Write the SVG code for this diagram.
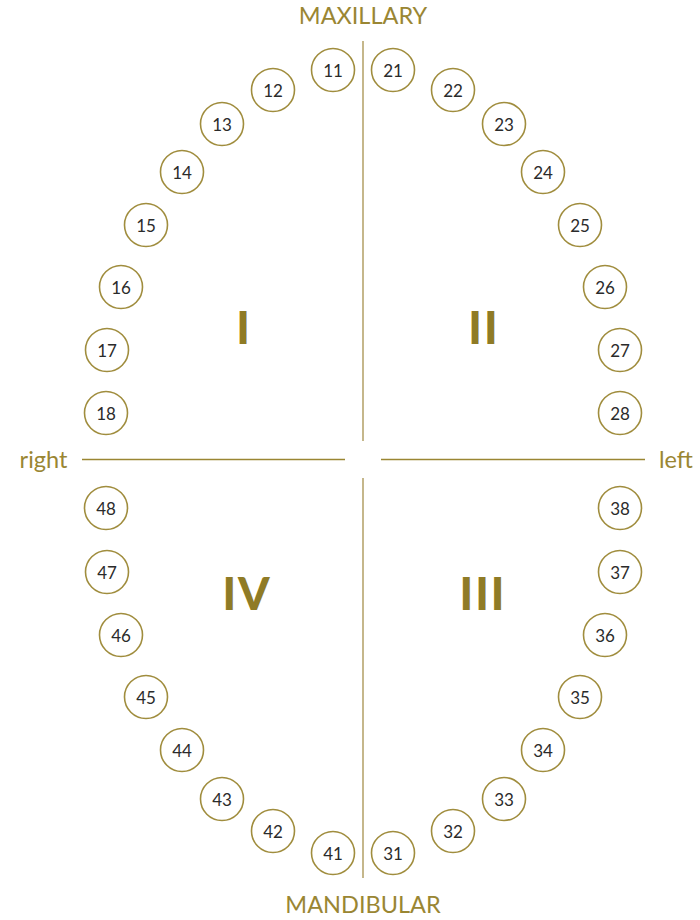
<svg xmlns="http://www.w3.org/2000/svg" width="700" height="920" viewBox="0 0 700 920">
<style>
.t circle{fill:#fff;stroke:#a08d3e;stroke-width:1.6}
.t text{font-family:Lato,"Open Sans",sans-serif;font-size:17px;fill:#2b2b2b;text-anchor:middle;dominant-baseline:central}
.lbl{font-family:Lato,"Open Sans",sans-serif;fill:#9a8633;font-size:23.5px;text-anchor:middle}
.q{font-family:Lato,"Open Sans",sans-serif;fill:#8f7b26;font-size:45px;font-weight:900;text-anchor:middle;letter-spacing:2px}
.v{stroke:#c5b78b;stroke-width:2}
.h{stroke:#9a8633;stroke-width:1.6}
</style>
<rect width="700" height="920" fill="#fff"/>
<g id="connectors">
<line class="v" x1="363" y1="41" x2="363" y2="441"/>
<line class="v" x1="363" y1="478" x2="363" y2="878"/>
<line class="h" x1="82" y1="459.5" x2="345" y2="459.5"/>
<line class="h" x1="381" y1="459.5" x2="645" y2="459.5"/>
</g>
<g id="labels">
<text class="lbl" x="363" y="24">MAXILLARY</text>
<text class="lbl" x="363" y="913">MANDIBULAR</text>
<text class="lbl" x="43.5" y="468">right</text>
<text class="lbl" x="676" y="468">left</text>
<text class="q" x="244" y="344">I</text>
<text class="q" x="484" y="344">II</text>
<text class="q" x="247" y="610">IV</text>
<text class="q" x="483" y="610">III</text>
</g>
<g id="t11" class="t"><circle cx="333" cy="70" r="21.5"/><text x="333" y="70">11</text></g>
<g id="t12" class="t"><circle cx="273" cy="90" r="21.5"/><text x="273" y="90">12</text></g>
<g id="t13" class="t"><circle cx="222" cy="124" r="21.5"/><text x="222" y="124">13</text></g>
<g id="t14" class="t"><circle cx="182" cy="172" r="21.5"/><text x="182" y="172">14</text></g>
<g id="t15" class="t"><circle cx="146" cy="225" r="21.5"/><text x="146" y="225">15</text></g>
<g id="t16" class="t"><circle cx="121" cy="287" r="21.5"/><text x="121" y="287">16</text></g>
<g id="t17" class="t"><circle cx="107" cy="350" r="21.5"/><text x="107" y="350">17</text></g>
<g id="t18" class="t"><circle cx="106" cy="413" r="21.5"/><text x="106" y="413">18</text></g>
<g id="t21" class="t"><circle cx="393" cy="70" r="21.5"/><text x="393" y="70">21</text></g>
<g id="t22" class="t"><circle cx="453" cy="90" r="21.5"/><text x="453" y="90">22</text></g>
<g id="t23" class="t"><circle cx="504" cy="124" r="21.5"/><text x="504" y="124">23</text></g>
<g id="t24" class="t"><circle cx="543" cy="172" r="21.5"/><text x="543" y="172">24</text></g>
<g id="t25" class="t"><circle cx="580" cy="225" r="21.5"/><text x="580" y="225">25</text></g>
<g id="t26" class="t"><circle cx="605" cy="287" r="21.5"/><text x="605" y="287">26</text></g>
<g id="t27" class="t"><circle cx="620" cy="350" r="21.5"/><text x="620" y="350">27</text></g>
<g id="t28" class="t"><circle cx="620" cy="413" r="21.5"/><text x="620" y="413">28</text></g>
<g id="t48" class="t"><circle cx="106" cy="508" r="21.5"/><text x="106" y="508">48</text></g>
<g id="t47" class="t"><circle cx="107" cy="572" r="21.5"/><text x="107" y="572">47</text></g>
<g id="t46" class="t"><circle cx="121" cy="635" r="21.5"/><text x="121" y="635">46</text></g>
<g id="t45" class="t"><circle cx="146" cy="697" r="21.5"/><text x="146" y="697">45</text></g>
<g id="t44" class="t"><circle cx="182" cy="750" r="21.5"/><text x="182" y="750">44</text></g>
<g id="t43" class="t"><circle cx="222" cy="799" r="21.5"/><text x="222" y="799">43</text></g>
<g id="t42" class="t"><circle cx="273" cy="831" r="21.5"/><text x="273" y="831">42</text></g>
<g id="t41" class="t"><circle cx="333" cy="853" r="21.5"/><text x="333" y="853">41</text></g>
<g id="t38" class="t"><circle cx="620" cy="508" r="21.5"/><text x="620" y="508">38</text></g>
<g id="t37" class="t"><circle cx="620" cy="572" r="21.5"/><text x="620" y="572">37</text></g>
<g id="t36" class="t"><circle cx="605" cy="635" r="21.5"/><text x="605" y="635">36</text></g>
<g id="t35" class="t"><circle cx="580" cy="697" r="21.5"/><text x="580" y="697">35</text></g>
<g id="t34" class="t"><circle cx="543" cy="750" r="21.5"/><text x="543" y="750">34</text></g>
<g id="t33" class="t"><circle cx="504" cy="799" r="21.5"/><text x="504" y="799">33</text></g>
<g id="t32" class="t"><circle cx="453" cy="831" r="21.5"/><text x="453" y="831">32</text></g>
<g id="t31" class="t"><circle cx="393" cy="853" r="21.5"/><text x="393" y="853">31</text></g>
</svg>
